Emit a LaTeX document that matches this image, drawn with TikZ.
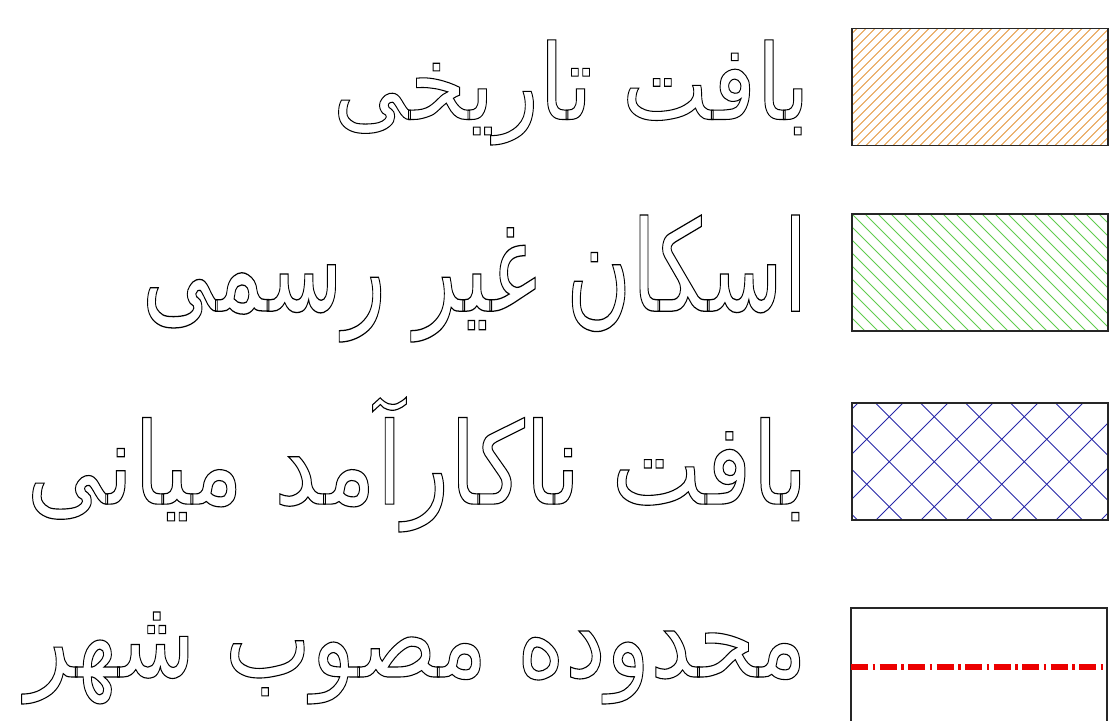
\documentclass[tikz,border=0pt]{standalone}
\usepackage{fontspec}
\usepackage{graphicx}
\newfontfamily\arabicfont[Script=Arabic]{DejaVu Sans}
\TeXXeTstate=1
\usetikzlibrary{positioning, calc}
\definecolor{historange}{RGB}{228,152,62}
\definecolor{infgreen}{RGB}{96,204,78}
\definecolor{gridblue}{RGB}{40,40,168}
\definecolor{limitred}{RGB}{236,0,0}
\newcommand{\hollow}[1]{\special{pdf:literal 1 Tr 0.1 w}#1\special{pdf:literal 0 Tr}}
\newcommand{\fa}[1]{\hollow{\arabicfont\beginR #1\endR}}
\tikzset{
  swatch/.style={rectangle, inner sep=0pt, outer sep=0pt,
                 minimum width=256pt, minimum height=117pt},
  frame/.style={draw=black!85, line width=1.6pt},
  legendtext/.style={inner sep=0pt, outer sep=0pt},
  hatchorange/.style={draw=historange, line width=0.8pt},
  hatchgreen/.style={draw=infgreen, line width=0.9pt},
  hatchblue/.style={draw=gridblue, line width=0.9pt},
  citylimit/.style={draw=limitred, line width=5.5pt,
                    dash pattern=on 17pt off 4.5pt on 2.5pt off 4.5pt}
}
\begin{document}
\begin{tikzpicture}[x=1pt, y=-1pt]
  \useasboundingbox (0,0) rectangle (1115,720);

  % Swatches
  \node[swatch] (hist) at (980,87) {};
  \node[swatch] (infor) at (980,272.5) {};
  \node[swatch] (inner) at (980,461.5) {};
  \node[swatch, minimum height=118pt] (city) at (979,667) {};

  % Hatching
  \begin{scope}
    \clip (hist.south west) rectangle (hist.north east);
    \foreach \i in {-130,-121,...,260}
      \draw[hatchorange] ($(hist.south west)+(\i,0)$) -- ++(140,-140);
  \end{scope}
  \begin{scope}
    \clip (infor.south west) rectangle (infor.north east);
    \foreach \i in {0,13,...,390}
      \draw[hatchgreen] ($(infor.south west)+(\i,0)$) -- ++(-140,-140);
  \end{scope}
  \begin{scope}
    \clip (inner.south west) rectangle (inner.north east);
    \foreach \i in {-156,-111,...,300} {
      \draw[hatchblue] ($(inner.south west)+(\i,0)$) -- ++(140,-140);
      \draw[hatchblue] ($(inner.south west)+(\i+26.4,0)$) -- ++(-140,-140);
    }
  \end{scope}

  % Frames
  \draw[frame] (hist.south west) rectangle (hist.north east);
  \draw[frame] (infor.south west) rectangle (infor.north east);
  \draw[frame] (inner.south west) rectangle (inner.north east);
  \draw[frame] (city.south west) |- (city.north east) -- (city.south east);

  % City limit line
  \draw[citylimit] (city.west) -- (city.east);

  % Labels
  \node[legendtext, left=42pt of hist, yshift=-5.5pt] (txthist)
    {\resizebox*{477pt}{105pt}{\fa{بافت تاریخی}}};
  \node[legendtext, left=44pt of infor, yshift=-6pt] (txtinfor)
    {\resizebox*{666pt}{127pt}{\fa{اسکان غیر رسمی}}};
  \node[legendtext, left=44pt of inner, yshift=-3pt] (txtinner)
    {\resizebox*{781pt}{135pt}{\fa{بافت ناکارآمد میانی}}};
  \node[legendtext, left=44pt of city, yshift=9pt] (txtcity)
    {\resizebox*{781pt}{92pt}{\fa{محدوده مصوب شهر}}};
\end{tikzpicture}
\end{document}
